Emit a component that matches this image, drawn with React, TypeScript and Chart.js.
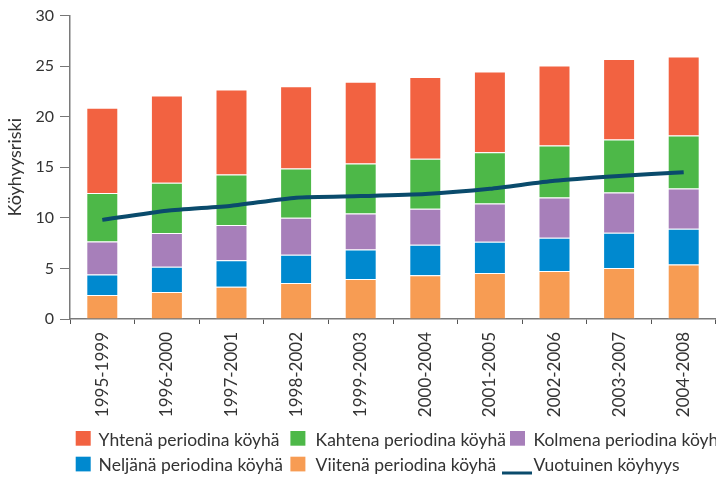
import React, { useEffect, useRef } from "react";
import { Chart, registerables } from "chart.js";

Chart.register(...registerables);

const periods = [
  "1995-1999", "1996-2000", "1997-2001", "1998-2002", "1999-2003",
  "2000-2004", "2001-2005", "2002-2006", "2003-2007", "2004-2008",
];
const fivePeriods = [2.37, 2.67, 3.19, 3.56, 3.95, 4.32, 4.54, 4.74, 5.04, 5.4];
const fourPeriods = [2.04, 2.5, 2.61, 2.8, 2.93, 3.02, 3.1, 3.29, 3.49, 3.52];
const threePeriods = [3.26, 3.33, 3.49, 3.64, 3.56, 3.56, 3.79, 3.99, 3.99, 3.99];
const twoPeriods = [4.8, 4.97, 5.0, 4.89, 4.94, 4.94, 5.07, 5.14, 5.23, 5.24];
const onePeriod = [8.43, 8.63, 8.4, 8.13, 8.07, 8.1, 7.97, 7.9, 7.97, 7.8];
const annualPoverty = [9.8, 10.7, 11.2, 12.0, 12.15, 12.35, 12.87, 13.66, 14.13, 14.52];
const yTicks = [0, 5, 10, 15, 20, 25, 30];

const seriesNames = {
  one: "Yhtenä periodina köyhä",
  two: "Kahtena periodina köyhä",
  three: "Kolmena periodina köyhä",
  four: "Neljänä periodina köyhä",
  five: "Viitenä periodina köyhä",
  annual: "Vuotuinen köyhyys",
};
const yTitle = "Köyhyysriski";

const RED = "#F26241";
const GREEN = "#4DB848";
const PURPLE = "#A77FBA";
const BLUE = "#0089CF";
const ORANGE = "#F79C53";
const NAVY = "#0A4B6C";
const TEXT = "#333333";
const FONT = "Lato, 'DejaVu Sans', sans-serif";

const legendPlugin = {
  id: "customLegend",
  afterDraw(chart: any) {
    const ctx = chart.ctx as CanvasRenderingContext2D;
    const area = chart.chartArea;
    ctx.save();
    // y axis title
    ctx.save();
    ctx.translate(15.5, (area.top + area.bottom) / 2);
    ctx.rotate(-Math.PI / 2);
    ctx.font = `18px ${FONT}`;
    ctx.fillStyle = TEXT;
    ctx.textAlign = "center";
    ctx.textBaseline = "middle";
    ctx.fillText(yTitle, 0, 0);
    ctx.restore();

    ctx.font = `17.5px ${FONT}`;
    ctx.fillStyle = TEXT;
    ctx.textBaseline = "alphabetic";
    const rows = [
      [
        { t: seriesNames.one, c: RED, bx: 75.7, tx: 98.6 },
        { t: seriesNames.two, c: GREEN, bx: 290.4, tx: 315.6 },
        { t: seriesNames.three, c: PURPLE, bx: 510, tx: 533.5 },
      ],
      [
        { t: seriesNames.four, c: BLUE, bx: 75.7, tx: 98.6 },
        { t: seriesNames.five, c: ORANGE, bx: 290.4, tx: 315.6 },
        { t: seriesNames.annual, c: NAVY, bx: 502, tx: 533.5, line: true },
      ],
    ];
    const boxTop = [431, 456.7];
    const baseline = [445.7, 471];
    rows.forEach((row, r) => {
      row.forEach((it: any) => {
        if (it.line) {
          ctx.strokeStyle = it.c;
          ctx.lineWidth = 3;
          ctx.beginPath();
          ctx.moveTo(it.bx, 473);
          ctx.lineTo(it.bx + 30, 473);
          ctx.stroke();
        } else {
          ctx.fillStyle = it.c;
          ctx.fillRect(it.bx, boxTop[r], 15, 14.7);
        }
        ctx.fillStyle = TEXT;
        ctx.fillText(it.t, it.tx, baseline[r]);
      });
    });
    ctx.restore();
  },
};

export default function App() {
  const ref = useRef<HTMLCanvasElement | null>(null);
  useEffect(() => {
    if (!ref.current) return;
    const barBase = {
      type: "bar" as const,
      stack: "bars",
      borderColor: "rgba(255,255,255,0.45)",
      borderWidth: 1,
      order: 2,
    };
    const chart = new Chart(ref.current, {
      type: "bar",
      data: {
        labels: periods,
        datasets: [
          {
            type: "line",
            label: seriesNames.annual,
            data: annualPoverty,
            borderColor: NAVY,
            borderWidth: 4,
            pointRadius: 0,
            tension: 0.2,
            stack: "line",
            order: 0,
          } as any,
          { ...barBase, label: seriesNames.five, data: fivePeriods, backgroundColor: ORANGE },
          { ...barBase, label: seriesNames.four, data: fourPeriods, backgroundColor: BLUE },
          { ...barBase, label: seriesNames.three, data: threePeriods, backgroundColor: PURPLE },
          { ...barBase, label: seriesNames.two, data: twoPeriods, backgroundColor: GREEN },
          { ...barBase, label: seriesNames.one, data: onePeriod, backgroundColor: RED },
        ],
      },
      options: {
        animation: false,
        responsive: false,
        layout: { padding: { left: 0, top: 15, right: -7, bottom: 0 } },
        datasets: { bar: { categoryPercentage: 1, barPercentage: 0.495 } },
        plugins: { legend: { display: false }, tooltip: { enabled: false } },
        scales: {
          x: {
            stacked: true,
            offset: true,
            afterFit: (s: any) => { s.height = 165; },
            grid: { offset: true, drawOnChartArea: false, tickLength: 5, color: "#555", lineWidth: 1 },
            border: { color: "#7a7a7a", width: 1.5 },
            ticks: {
              autoSkip: false,
              maxRotation: 90,
              minRotation: 90,
              padding: 8,
              color: TEXT,
              font: { family: FONT, size: 17 },
            },
          },
          y: {
            stacked: true,
            min: 0,
            max: 30,
            afterFit: (s: any) => { s.width = 70; },
            afterBuildTicks: (s: any) => { s.ticks = yTicks.map((v) => ({ value: v })); },
            grid: { drawOnChartArea: false, tickLength: 10, color: "#777", lineWidth: 1 },
            border: { color: "#7a7a7a", width: 1.5 },
            ticks: { padding: 6, color: TEXT, font: { family: FONT, size: 16 } },
            title: { display: false },
          },
        },
      },
      plugins: [legendPlugin],
    });
    return () => chart.destroy();
  }, []);
  return (
    <div style={{ position: "fixed", left: 0, top: 0, width: 716, height: 484, background: "#fff" }}>
      <canvas ref={ref} width={716} height={484} style={{ display: "block" }} />
    </div>
  );
}
